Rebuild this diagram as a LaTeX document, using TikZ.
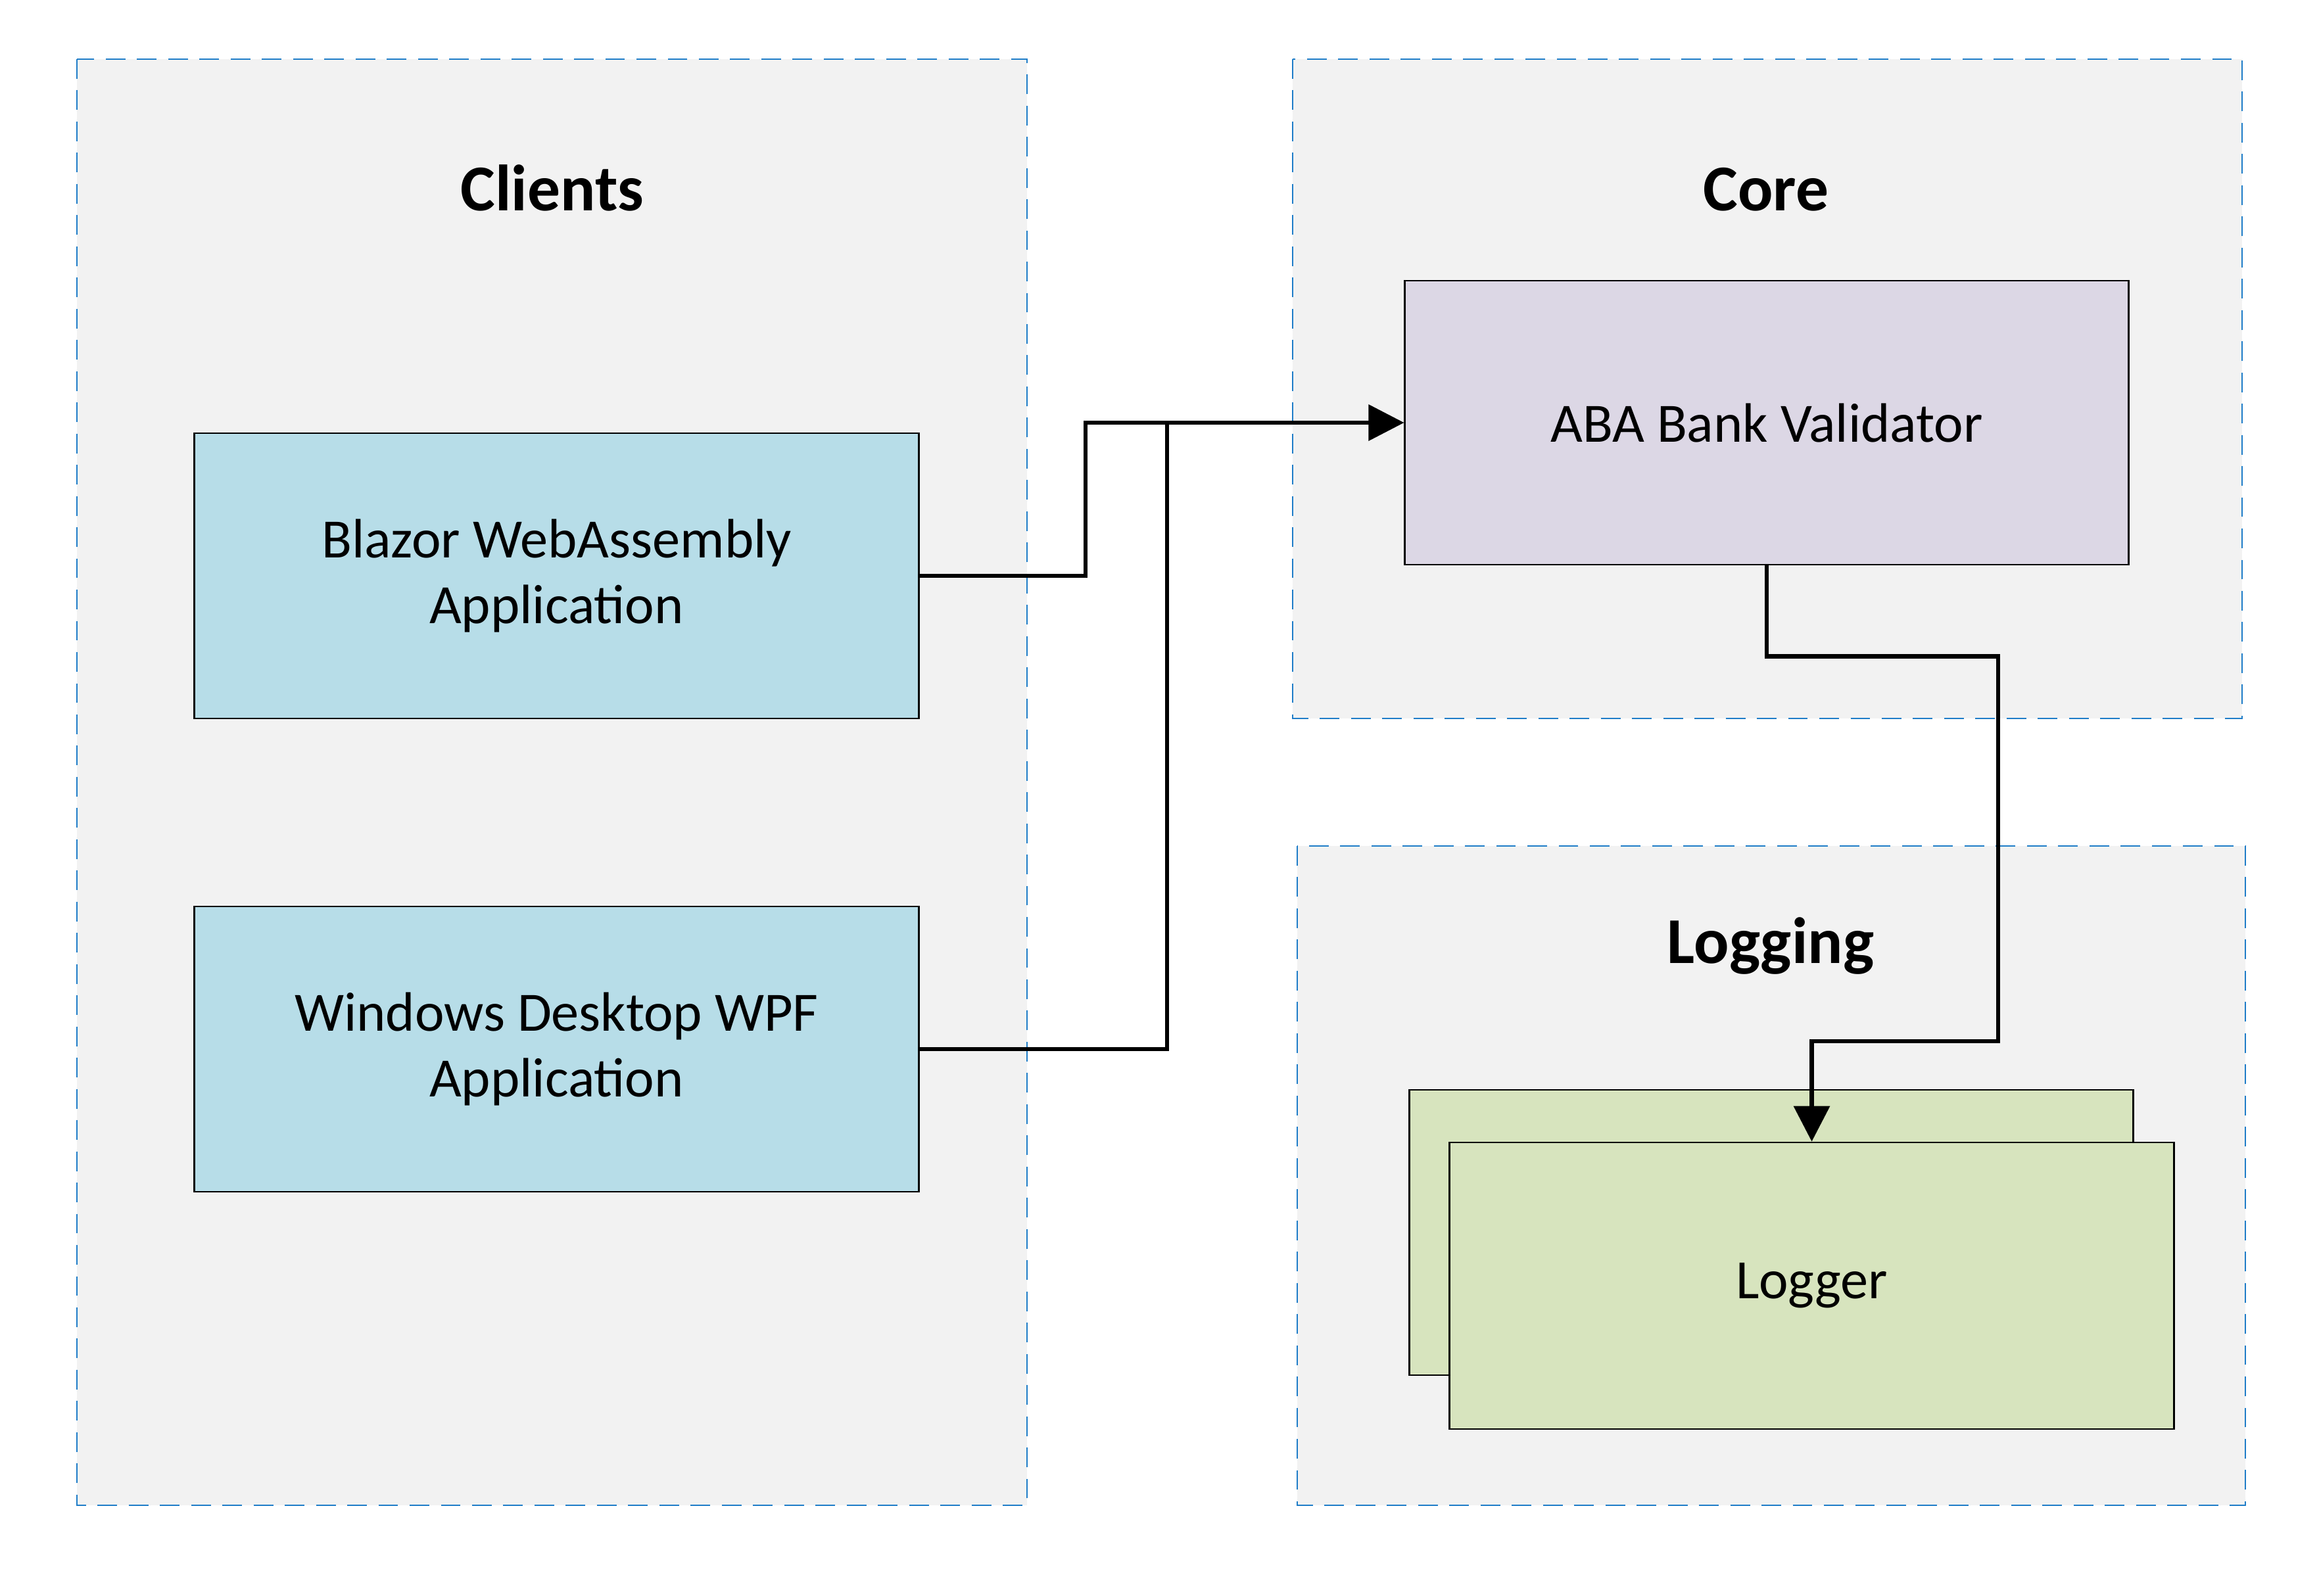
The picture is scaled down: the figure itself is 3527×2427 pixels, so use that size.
\documentclass[tikz,border=0pt]{standalone}
\usepackage{fontspec}
\setmainfont{Carlito}
\usetikzlibrary{arrows.meta}
\definecolor{grpfill}{HTML}{F2F2F2}
\definecolor{grpline}{HTML}{1F7DC8}
\definecolor{bluefill}{HTML}{B7DDE8}
\definecolor{lilacfill}{HTML}{DCD7E5}
\definecolor{greenfill}{HTML}{D7E4BE}
\tikzset{
  grp/.style={fill=grpfill, draw=grpline, line width=0.7pt, dash pattern=on 8.5pt off 5pt},
  grptitle/.style={font=\fontsize{28.3}{33}\selectfont\bfseries, anchor=base, inner sep=0pt},
  box/.style={draw=black, line width=0.7pt, minimum width=11.01cm, minimum height=4.34cm,
    align=center, inner sep=0pt, font=\fontsize{24}{28.2}\selectfont},
  conn/.style={draw=black, line width=1.9pt},
  arr/.style={-{Triangle[length=5.4mm,width=5.4mm]}}
}
\begin{document}
\begin{tikzpicture}[x=0.01cm, y=-0.01cm]
\useasboundingbox[fill=white] (0,0) rectangle (3527,2427);
% groups
\draw[grp] (117,90) rectangle (1562,2290);
\draw[grp] (1966,90) rectangle (3410,1093);
\draw[grp] (1973,1287) rectangle (3415,2290);
\node[grptitle] (tclients) at (840,320) {Clients};
\node[grptitle] (tcore) at (2686,320) {Core};
\node[grptitle] (tlogging) at (2693,1465) {Logging};
% boxes
\node[box, fill=bluefill] (blz) at (846.5,876) {Blazor WebAssembly\\Application};
\node[box, fill=bluefill] (wpf) at (846.5,1596) {Windows Desktop WPF\\Application};
\node[box, fill=lilacfill, minimum height=4.32cm, minimum width=11.00cm] (aba) at (2687,643) {ABA Bank Validator};
\node[box, fill=greenfill, minimum width=11.0cm] (logb) at (2694,1875) {};
\node[box, fill=greenfill, minimum height=4.36cm] (logf) at (2755.5,1956) {Logger};
% connectors
\coordinate (j1) at (1651,643);
\coordinate (j2) at (1775,643);
\coordinate (c1) at (3039,1584);
\draw[conn, arr] (blz.east) -| (j1) -- (aba.west);
\draw[conn] (wpf.east) -| (j2);
\draw[conn, arr] (aba.south) -- ++(0,138) -| (c1) -| (logf.north);
\end{tikzpicture}
\end{document}
